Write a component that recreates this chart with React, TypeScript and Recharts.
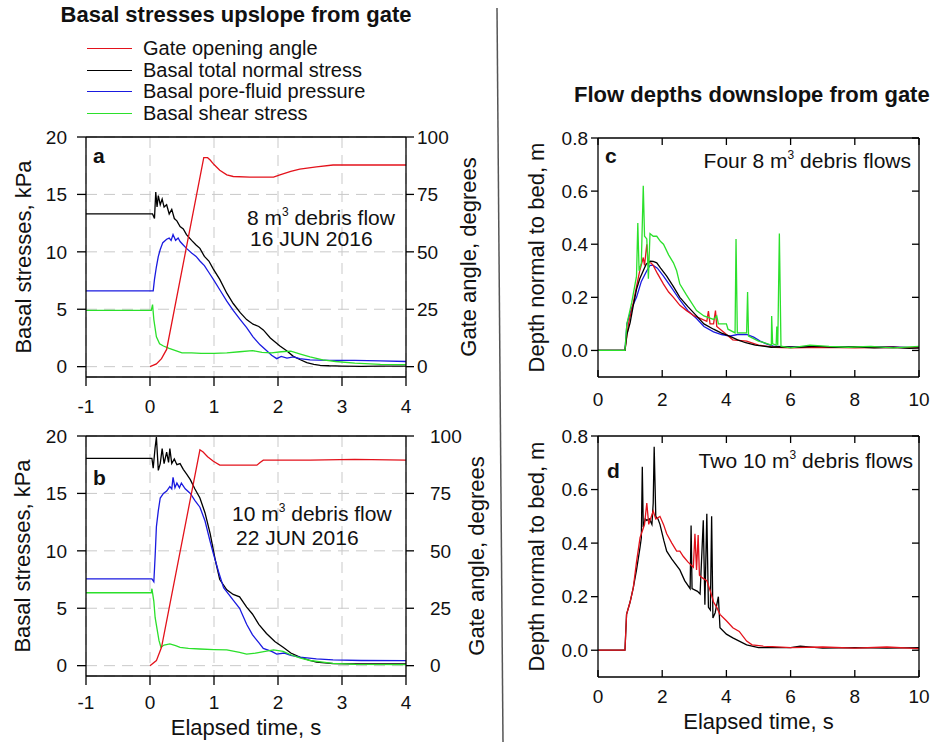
import {
  CartesianGrid,
  Customized,
  Legend,
  Line,
  LineChart,
  XAxis,
  YAxis
} from 'recharts';

type Pt = [number, number];

// ---- panel a: 8 m3 flow, 16 JUN 2016 (time s, stress kPa / angle deg)
const aNormal: Pt[] = [
  [-1, 13.3], [0.04, 13.3], [0.07, 12.9], [0.09, 15.2], [0.11, 13.9], [0.13, 14.9], [0.16, 14.1],
  [0.19, 14.6], [0.22, 13.9], [0.26, 14.1], [0.3, 13.3], [0.34, 13.7], [0.38, 12.9], [0.42, 12.7],
  [0.47, 12.2], [0.52, 12.0], [0.57, 11.5], [0.65, 11.0], [0.72, 10.6], [0.78, 10.3], [0.85, 9.6],
  [0.92, 9.2], [0.99, 8.5], [1.09, 7.6], [1.2, 6.4], [1.3, 5.5], [1.41, 4.7], [1.51, 4.1],
  [1.61, 3.7], [1.7, 3.5], [1.77, 3.2], [1.88, 2.5], [2.03, 1.8], [2.13, 1.4], [2.24, 0.9],
  [2.35, 0.6], [2.45, 0.35], [2.56, 0.2], [2.66, 0.12], [2.8, 0.08], [3.0, 0.05], [3.3, 0.03],
  [3.6, 0.04], [4, 0.05]
];
const aPore: Pt[] = [
  [-1, 6.6], [0.05, 6.6], [0.07, 7.6], [0.1, 8.7], [0.13, 9.6], [0.16, 10.2], [0.2, 10.8],
  [0.26, 11.1], [0.3, 11.2], [0.33, 11.0], [0.36, 11.5], [0.4, 11.0], [0.44, 11.2], [0.47, 10.9],
  [0.52, 10.6], [0.57, 10.3], [0.65, 9.9], [0.72, 9.6], [0.78, 9.2], [0.85, 8.8], [0.92, 8.2],
  [0.99, 7.6], [1.09, 6.7], [1.2, 5.7], [1.3, 4.9], [1.41, 4.1], [1.51, 3.4], [1.61, 2.6],
  [1.72, 1.9], [1.82, 1.4], [1.9, 1.0], [1.98, 0.7], [2.05, 0.9], [2.14, 0.75], [2.24, 0.85],
  [2.34, 0.7], [2.5, 0.6], [2.8, 0.55], [3.2, 0.55], [3.6, 0.5], [4, 0.45]
];
const aShear: Pt[] = [
  [-1, 4.9], [0.02, 4.9], [0.04, 5.4], [0.06, 4.1], [0.1, 2.6], [0.15, 2.0], [0.21, 1.8],
  [0.3, 1.6], [0.4, 1.4], [0.5, 1.2], [0.65, 1.2], [0.8, 1.15], [1.0, 1.15], [1.2, 1.2],
  [1.4, 1.3], [1.6, 1.4], [1.75, 1.25], [1.9, 1.2], [2.05, 1.3], [2.2, 1.35], [2.35, 1.1],
  [2.5, 0.85], [2.7, 0.6], [2.9, 0.45], [3.2, 0.3], [3.6, 0.2], [4, 0.17]
];
const aGate: Pt[] = [
  [0, 0], [0.1, 1.2], [0.18, 3.5], [0.26, 7.5], [0.84, 91], [0.9, 91], [0.94, 90], [1.0, 88],
  [1.09, 85.5], [1.2, 83.5], [1.3, 82.8], [1.56, 82.5], [1.93, 82.5], [2.03, 83.5], [2.2, 85],
  [2.34, 86], [2.6, 87], [2.86, 87.8], [3.3, 87.8], [4, 87.8]
];

// ---- panel b: 10 m3 flow, 22 JUN 2016
const bNormal: Pt[] = [
  [-1, 18.05], [0.03, 18.05], [0.05, 17.2], [0.08, 19.0], [0.1, 19.9], [0.13, 17.0], [0.16, 17.6],
  [0.19, 18.9], [0.22, 17.6], [0.26, 18.6], [0.29, 17.7], [0.31, 18.9], [0.34, 17.6], [0.38, 18.0],
  [0.42, 17.5], [0.47, 17.6], [0.52, 17.1], [0.57, 16.7], [0.63, 16.2], [0.7, 15.4], [0.78, 14.6],
  [0.86, 13.3], [0.94, 11.5], [1.02, 9.2], [1.09, 7.5], [1.2, 6.6], [1.3, 6.2], [1.4, 6.0],
  [1.51, 5.1], [1.6, 4.5], [1.7, 3.6], [1.82, 2.8], [1.95, 2.1], [2.08, 1.6], [2.2, 1.1],
  [2.34, 0.75], [2.5, 0.45], [2.6, 0.3], [2.86, 0.18], [3.2, 0.15], [4, 0.15]
];
const bPore: Pt[] = [
  [-1, 7.55], [0.03, 7.55], [0.06, 7.3], [0.08, 9.5], [0.1, 12.1], [0.13, 13.5], [0.16, 14.6],
  [0.21, 15.0], [0.26, 15.2], [0.31, 15.6], [0.34, 15.4], [0.36, 16.4], [0.39, 15.5], [0.42, 15.9],
  [0.46, 15.5], [0.49, 15.9], [0.55, 15.4], [0.63, 15.0], [0.7, 14.4], [0.78, 13.8], [0.86, 12.6],
  [0.94, 10.8], [0.99, 9.75], [1.07, 8.2], [1.15, 6.8], [1.3, 5.7], [1.4, 5.0], [1.51, 3.6],
  [1.6, 2.7], [1.7, 2.0], [1.77, 1.5], [1.9, 1.25], [1.98, 1.0], [2.1, 1.1], [2.2, 0.9],
  [2.34, 0.75], [2.6, 0.6], [2.86, 0.5], [3.3, 0.45], [4, 0.44]
];
const bShear: Pt[] = [
  [-1, 6.35], [0.02, 6.35], [0.03, 6.7], [0.06, 5.6], [0.08, 4.2], [0.11, 3.2], [0.14, 2.2],
  [0.17, 1.6], [0.22, 1.8], [0.31, 1.9], [0.4, 1.75], [0.47, 1.6], [0.6, 1.5], [0.78, 1.45],
  [1.0, 1.4], [1.2, 1.37], [1.4, 1.15], [1.51, 1.0], [1.65, 1.1], [1.8, 1.25], [1.93, 1.37],
  [2.08, 1.25], [2.2, 0.95], [2.34, 0.67], [2.5, 0.45], [2.7, 0.3], [2.86, 0.2], [3.2, 0.12],
  [4, 0.09]
];
const bGate: Pt[] = [
  [0, 0], [0.1, 2.2], [0.18, 8], [0.78, 94], [0.83, 93], [0.9, 91], [0.99, 89], [1.09, 87.3],
  [1.3, 87.3], [1.67, 87.3], [1.72, 88.5], [1.77, 89.5], [2.5, 89.5], [3.2, 89.8], [4, 89.5]
];

// ---- panel c: four 8 m3 flows, depth m
const cBlack: Pt[] = [
  [0, 0], [0.84, 0], [0.9, 0.06], [1.0, 0.104], [1.1, 0.17], [1.2, 0.23], [1.3, 0.27], [1.41, 0.3],
  [1.5, 0.325], [1.62, 0.336], [1.72, 0.335], [1.83, 0.33], [1.95, 0.31], [2.14, 0.28], [2.35, 0.24],
  [2.55, 0.2], [2.8, 0.165], [3.07, 0.13], [3.3, 0.1], [3.6, 0.08], [3.85, 0.065], [4.1, 0.054],
  [4.35, 0.04], [4.6, 0.029], [4.9, 0.02], [5.15, 0.016], [5.4, 0.012], [5.67, 0.014], [6.2, 0.012],
  [6.8, 0.015], [7.4, 0.012], [8.0, 0.014], [8.6, 0.01], [9.2, 0.012], [9.7, 0.008], [10, 0.01]
];
const cRed: Pt[] = [
  [0, 0], [0.84, 0], [0.95, 0.1], [1.1, 0.18], [1.2, 0.24], [1.3, 0.3], [1.41, 0.35], [1.45, 0.32],
  [1.52, 0.4], [1.57, 0.33], [1.65, 0.33], [1.72, 0.32], [1.85, 0.29], [2.04, 0.25], [2.2, 0.22],
  [2.35, 0.2], [2.55, 0.17], [2.76, 0.15], [3.0, 0.13], [3.2, 0.12], [3.39, 0.11], [3.44, 0.148],
  [3.49, 0.1], [3.6, 0.1], [3.66, 0.15], [3.7, 0.09], [3.9, 0.07], [4.2, 0.04], [4.63, 0.035],
  [5.0, 0.02], [5.5, 0.012], [6, 0.01], [7, 0.012], [8, 0.01], [9, 0.012], [10, 0.01]
];
const cBlue: Pt[] = [
  [0, 0], [0.84, 0], [0.9, 0.1], [1.05, 0.16], [1.2, 0.2], [1.35, 0.26], [1.52, 0.3], [1.62, 0.32],
  [1.72, 0.32], [1.85, 0.31], [2.04, 0.28], [2.3, 0.235], [2.55, 0.19], [2.8, 0.15], [3.07, 0.12],
  [3.3, 0.09], [3.6, 0.07], [3.85, 0.06], [4.1, 0.054], [4.35, 0.06], [4.63, 0.06], [4.85, 0.05],
  [5.05, 0.035], [5.25, 0.025], [5.46, 0.016], [6, 0.012], [6.6, 0.015], [7.2, 0.013], [8, 0.012],
  [8.8, 0.014], [9.4, 0.012], [10, 0.01]
];
const cGreen: Pt[] = [
  [0, 0], [0.84, 0], [0.9, 0.1], [1.05, 0.18], [1.2, 0.28], [1.24, 0.48], [1.28, 0.3], [1.35, 0.33],
  [1.41, 0.62], [1.45, 0.43], [1.52, 0.42], [1.57, 0.27], [1.62, 0.44], [1.72, 0.43], [1.83, 0.43],
  [1.95, 0.41], [2.04, 0.4], [2.2, 0.36], [2.35, 0.33], [2.45, 0.3], [2.55, 0.25], [2.75, 0.21],
  [3.07, 0.15], [3.3, 0.13], [3.6, 0.117], [3.7, 0.13], [3.75, 0.1], [4.0, 0.1], [4.05, 0.08],
  [4.27, 0.066], [4.3, 0.42], [4.34, 0.066], [4.63, 0.066], [4.66, 0.22], [4.69, 0.054], [5.0, 0.035],
  [5.15, 0.03], [5.4, 0.02], [5.41, 0.13], [5.44, 0.025], [5.55, 0.02], [5.57, 0.09], [5.6, 0.02],
  [5.65, 0.44], [5.7, 0.016], [6.0, 0.01], [6.6, 0.02], [7.2, 0.015], [7.8, 0.012], [8.5, 0.015],
  [9.2, 0.01], [10, 0.015]
];

// ---- panel d: two 10 m3 flows
const dBlack: Pt[] = [
  [0, 0], [0.84, 0], [0.89, 0.134], [1.0, 0.18], [1.1, 0.234], [1.2, 0.3], [1.31, 0.385], [1.35, 0.42],
  [1.38, 0.685], [1.41, 0.46], [1.47, 0.49], [1.52, 0.485], [1.6, 0.49], [1.68, 0.47], [1.72, 0.55],
  [1.75, 0.76], [1.8, 0.5], [1.87, 0.49], [1.93, 0.47], [2.05, 0.41], [2.14, 0.37], [2.3, 0.34],
  [2.55, 0.3], [2.7, 0.26], [2.87, 0.23], [2.9, 0.466], [2.93, 0.23], [3.1, 0.22], [3.18, 0.21],
  [3.28, 0.485], [3.33, 0.17], [3.39, 0.51], [3.44, 0.16], [3.5, 0.15], [3.54, 0.5], [3.58, 0.12],
  [3.65, 0.14], [3.75, 0.2], [3.8, 0.084], [4.0, 0.06], [4.2, 0.046], [4.63, 0.02], [5.0, 0.01],
  [6, 0.01], [6.3, 0.015], [7, 0.008], [8, 0.01], [9, 0.008], [10, 0.01]
];
const dRed: Pt[] = [
  [0, 0], [0.84, 0], [0.89, 0.134], [1.0, 0.18], [1.1, 0.234], [1.2, 0.33], [1.31, 0.42], [1.45, 0.47],
  [1.52, 0.55], [1.58, 0.47], [1.62, 0.485], [1.72, 0.52], [1.8, 0.49], [1.93, 0.5], [2.04, 0.47],
  [2.14, 0.435], [2.3, 0.4], [2.45, 0.37], [2.55, 0.37], [2.66, 0.35], [2.8, 0.33], [2.97, 0.31],
  [3.02, 0.435], [3.07, 0.3], [3.12, 0.43], [3.16, 0.28], [3.25, 0.27], [3.39, 0.26], [3.5, 0.22],
  [3.6, 0.18], [3.7, 0.16], [3.8, 0.134], [4.0, 0.11], [4.2, 0.084], [4.4, 0.07], [4.63, 0.034],
  [4.8, 0.02], [5.15, 0.015], [6, 0.01], [7, 0.012], [8, 0.008], [9, 0.012], [10, 0.006]
];

const stressTicks = [0, 5, 10, 15, 20];
const angleTicks = [0, 25, 50, 75, 100];
const stressTimeTicks = [-1, 0, 1, 2, 3, 4];
const depthTicks = [0, 0.2, 0.4, 0.6, 0.8];
const depthTimeTicks = [0, 2, 4, 6, 8, 10];
const legendOrder = [
  'Gate opening angle',
  'Basal total normal stress',
  'Basal pore-fluid pressure',
  'Basal shear stress'
];

const FONT = '"Liberation Sans", Arial, sans-serif';
const RED = '#e3121b';
const BLACK = '#000000';
const BLUE = '#1a1ae0';
const GREEN = '#2be02b';
const INK = '#111';
const AXIS = { stroke: '#000', strokeWidth: 1.3 };
const TICK = { fontSize: 19, fill: INK, fontFamily: FONT };
const FRAME = 10; // size given to the top / right frame axes

const rows = (pts: Pt[]) => pts.map(([t, v]) => ({ t, v }));

const vTitle = (x: number, text: string) => (props: any) => {
  const vb = props.viewBox || { y: 0, height: 0 };
  const cy = vb.y + vb.height / 2;
  return (
    <text x={x} y={cy} transform={`rotate(-90 ${x} ${cy})`} textAnchor="middle"
      dominantBaseline="central" fontSize={22} fill={INK} fontFamily={FONT}>
      {text}
    </text>
  );
};

const hTitle = (y: number, text: string) => (props: any) => {
  const vb = props.viewBox || { x: 0, width: 0 };
  return (
    <text x={vb.x + vb.width / 2} y={y} textAnchor="middle" fontSize={22} fill={INK} fontFamily={FONT}>
      {text}
    </text>
  );
};

// ticks that point into the frame (panels c, d)
const upTick = (gap: number) => (props: any) => {
  const { x, y, payload } = props;
  return (
    <g>
      <line x1={x} y1={y} x2={x} y2={y - 7} stroke="#000" strokeWidth={1.3} />
      <text x={x} y={y + gap} dy="0.71em" textAnchor="middle" {...TICK}>{payload.value}</text>
    </g>
  );
};
const downTick = (props: any) => (
  <line x1={props.x} y1={props.y} x2={props.x} y2={props.y + 7} stroke="#000" strokeWidth={1.3} />
);
const leftTick = (props: any) => (
  <line x1={props.x} y1={props.y} x2={props.x - 7} y2={props.y} stroke="#000" strokeWidth={1.3} />
);
const noTick = () => <g />;

const Cube = ({ x, y, lead, rest, anchor = 'start' }: any) => (
  <text x={x} y={y} textAnchor={anchor} fontSize={21} fill={INK} fontFamily={FONT}>
    {lead}m<tspan dy={-9} fontSize={12}>3</tspan><tspan dy={9}>{rest}</tspan>
  </text>
);

const LegendBox = ({ payload }: any) => {
  const items = [...(payload || [])].sort(
    (p: any, q: any) => legendOrder.indexOf(p.value) - legendOrder.indexOf(q.value)
  );
  return (
    <div style={{ fontFamily: FONT, fontSize: 20, color: INK }}>
      {items.map((p: any) => (
        <div key={p.value} style={{ display: 'flex', alignItems: 'center', height: 21.5 }}>
          <span style={{ display: 'inline-block', width: 45, borderTop: `1.5px solid ${p.color}`, marginRight: 11 }} />
          <span style={{ lineHeight: '21.5px', whiteSpace: 'nowrap' }}>{p.value}</span>
        </div>
      ))}
    </div>
  );
};

function StressChart(props: {
  height: number; top: number; xHeight: number; xTickMargin: number;
  rightTickMargin: number; leftTitleX: number; rightTitleX: number; xTitleY?: number;
  normal: Pt[]; pore: Pt[]; shear: Pt[]; gate: Pt[]; legend?: boolean; notes: any;
}) {
  const p = props;
  return (
    <LineChart width={495} height={p.height} margin={{ top: p.top - FRAME, right: 0, bottom: 0, left: 0 }}>
      <CartesianGrid xAxisId="x" yAxisId="kpa" stroke="#c9c9c9" strokeDasharray="11 7" />
      <XAxis xAxisId="x" dataKey="t" type="number" domain={[-1, 4]} ticks={stressTimeTicks}
        interval={0} height={p.xHeight} tickSize={9} tickMargin={p.xTickMargin}
        axisLine={AXIS} tickLine={AXIS} tick={TICK}
        label={p.xTitleY ? hTitle(p.xTitleY, 'Elapsed time, s') : undefined} />
      <XAxis xAxisId="top" dataKey="t" orientation="top" type="number" domain={[-1, 4]} ticks={stressTimeTicks}
        interval={0} height={FRAME} tickSize={0} tickMargin={0} tick={noTick} tickLine={false} axisLine={AXIS} />
      <YAxis yAxisId="kpa" type="number" domain={[-0.9, 20]} ticks={stressTicks} interval={0}
        allowDataOverflow width={86} tickSize={9} tickMargin={10} axisLine={AXIS} tickLine={AXIS}
        tick={TICK} label={vTitle(p.leftTitleX, 'Basal stresses, kPa')} />
      <YAxis yAxisId="deg" orientation="right" type="number" domain={[-4.5, 100]} ticks={angleTicks}
        interval={0} allowDataOverflow width={89} tickSize={8} tickMargin={p.rightTickMargin}
        axisLine={AXIS} tickLine={AXIS} tick={TICK} label={vTitle(p.rightTitleX, 'Gate angle, degrees')} />
      <Line data={rows(p.normal)} dataKey="v" xAxisId="x" yAxisId="kpa" name="Basal total normal stress"
        stroke={BLACK} strokeWidth={1.3} dot={false} isAnimationActive={false} />
      <Line data={rows(p.pore)} dataKey="v" xAxisId="x" yAxisId="kpa" name="Basal pore-fluid pressure"
        stroke={BLUE} strokeWidth={1.3} dot={false} isAnimationActive={false} />
      <Line data={rows(p.shear)} dataKey="v" xAxisId="x" yAxisId="kpa" name="Basal shear stress"
        stroke={GREEN} strokeWidth={1.3} dot={false} isAnimationActive={false} />
      {/* gate angle is plotted against the top (same time range) and right axes */}
      <Line data={rows(p.gate)} dataKey="v" xAxisId="top" yAxisId="deg" name="Gate opening angle"
        stroke={RED} strokeWidth={1.3} dot={false} isAnimationActive={false} />
      {p.legend && (
        <Legend layout="vertical" align="center" verticalAlign="middle" content={<LegendBox />}
          wrapperStyle={{ top: 8, left: 87, width: 330 }} />
      )}
      <Customized component={p.notes} />
    </LineChart>
  );
}

function DepthChart(props: {
  height: number; top: number; xHeight: number; gap: number; xTitleY?: number;
  series: { pts: Pt[]; color: string }[]; notes: any;
}) {
  const p = props;
  return (
    <LineChart width={455} height={p.height} margin={{ top: p.top - FRAME, right: 16 - FRAME, bottom: 0, left: 0 }}>
      <XAxis xAxisId="x" dataKey="t" type="number" domain={[0, 10]} ticks={depthTimeTicks} interval={0}
        height={p.xHeight} tickSize={0} tickMargin={0} tickLine={false} axisLine={AXIS}
        tick={upTick(p.gap)} label={p.xTitleY ? hTitle(p.xTitleY, 'Elapsed time, s') : undefined} />
      <XAxis xAxisId="top" dataKey="t" orientation="top" type="number" domain={[0, 10]} ticks={depthTimeTicks}
        interval={0} height={FRAME} tickSize={0} tickMargin={0} tickLine={false} axisLine={AXIS} tick={downTick} />
      <YAxis yAxisId="m" type="number" domain={[-0.1, 0.8]} ticks={depthTicks} interval={0}
        allowDataOverflow width={118} tickSize={7} tickMargin={3} axisLine={AXIS} tickLine={AXIS}
        tick={TICK} tickFormatter={(v: number) => v.toFixed(1)} label={vTitle(56, 'Depth normal to bed, m')} />
      <YAxis yAxisId="r" orientation="right" type="number" domain={[-0.1, 0.8]} ticks={depthTicks}
        allowDataOverflow interval={0} width={FRAME} tickSize={0} tickMargin={0} tickLine={false}
        axisLine={AXIS} tick={leftTick} />
      {/* the first record is drawn against the top/right frame axes, which share the same ranges */}
      {p.series.map((s, i) => (
        <Line key={i} data={rows(s.pts)} dataKey="v" xAxisId={i === 0 ? 'top' : 'x'} yAxisId={i === 0 ? 'r' : 'm'}
          stroke={s.color} strokeWidth={1.3} dot={false} isAnimationActive={false} />
      ))}
      <Customized component={p.notes} />
    </LineChart>
  );
}

const bold = { fontSize: 21, fontWeight: 700, fill: INK, fontFamily: FONT };

export default function App() {
  return (
    <div style={{ position: 'absolute', left: 0, top: 0, width: 935, height: 742, background: '#fff', fontFamily: FONT, overflow: 'hidden' }}>
      <svg width={935} height={742} style={{ position: 'absolute', left: 0, top: 0 }}>
        <line x1={497} y1={8} x2={503} y2={742} stroke="#555" strokeWidth={1.5} />
      </svg>
      <div style={{ position: 'absolute', left: 0, top: 2, width: 472, textAlign: 'center', fontSize: 22, fontWeight: 700, color: INK, lineHeight: '26px' }}>
        Basal stresses upslope from gate
      </div>
      <div style={{ position: 'absolute', left: 574, top: 82, fontSize: 22, fontWeight: 700, color: INK, lineHeight: '26px', whiteSpace: 'nowrap' }}>
        Flow depths downslope from gate
      </div>

      <div style={{ position: 'absolute', left: 0, top: 30 }}>
        <StressChart height={390} top={107} xHeight={43} xTickMargin={14} rightTickMargin={3}
          leftTitleX={23} rightTitleX={468} normal={aNormal} pore={aPore} shear={aShear} gate={aGate} legend
          notes={() => (
            <g>
              <text x={93} y={133} {...bold}>a</text>
              <Cube x={247} y={195} lead="8 " rest=" debris flow" />
              <text x={250} y={216} fontSize={21} fill={INK} fontFamily={FONT}>16 JUN 2016</text>
            </g>
          )} />
      </div>

      <div style={{ position: 'absolute', left: 0, top: 420 }}>
        <StressChart height={322} top={16} xHeight={66} xTickMargin={11} rightTickMargin={16}
          leftTitleX={22} rightTitleX={476} xTitleY={315} normal={bNormal} pore={bPore} shear={bShear} gate={bGate}
          notes={() => (
            <g>
              <text x={93} y={65} {...bold}>b</text>
              <Cube x={232} y={101} lead="10 " rest=" debris flow" />
              <text x={236} y={125} fontSize={21} fill={INK} fontFamily={FONT}>22 JUN 2016</text>
            </g>
          )} />
      </div>

      <div style={{ position: 'absolute', left: 480, top: 120 }}>
        <DepthChart height={300} top={18} xHeight={43} gap={16}
          series={[{ pts: cBlue, color: BLUE }, { pts: cRed, color: RED }, { pts: cBlack, color: BLACK }, { pts: cGreen, color: GREEN }]}
          notes={() => (
            <g>
              <text x={125} y={43} {...bold}>c</text>
              <Cube x={431} y={48} anchor="end" lead="Four 8 " rest=" debris flows" />
            </g>
          )} />
      </div>

      <div style={{ position: 'absolute', left: 480, top: 420 }}>
        <DepthChart height={322} top={16} xHeight={65} gap={13} xTitleY={309}
          series={[{ pts: dBlack, color: BLACK }, { pts: dRed, color: RED }]}
          notes={() => (
            <g>
              <text x={127} y={58} {...bold}>d</text>
              <Cube x={433} y={48} anchor="end" lead="Two 10 " rest=" debris flows" />
            </g>
          )} />
      </div>
    </div>
  );
}
